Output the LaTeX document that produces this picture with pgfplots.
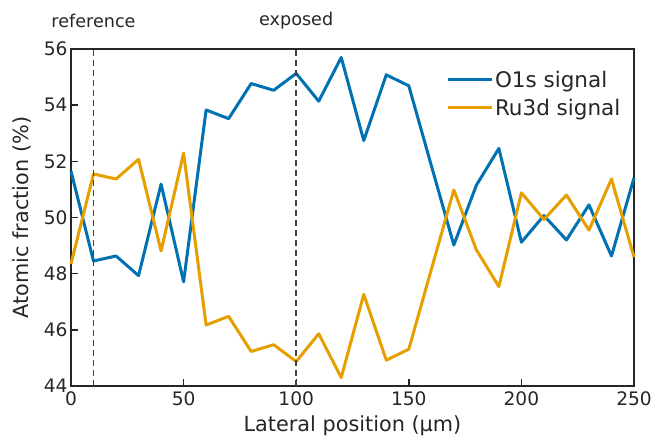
\documentclass[border=0pt]{standalone}
\usepackage{fontspec}
\setmainfont{DejaVu Sans}
\usepackage{pgfplots}
\usepackage{pgfplotstable}
\pgfplotsset{compat=1.18}
\definecolor{oblue}{HTML}{0072B2}
\definecolor{rorange}{HTML}{E69F00}

\pgfplotstableread{
x o1s ru3d
0 51.65 48.35
10 48.45 51.55
20 48.63 51.37
30 47.93 52.07
40 51.19 48.81
50 47.71 52.29
60 53.83 46.17
70 53.52 46.48
80 54.77 45.23
90 54.53 45.47
100 55.13 44.87
110 54.14 45.86
120 55.70 44.30
130 52.74 47.26
140 55.08 44.92
150 54.69 45.31
160 51.85 48.15
170 49.02 50.98
180 51.15 48.85
190 52.46 47.54
200 49.12 50.88
210 50.07 49.93
220 49.20 50.80
230 50.45 49.55
240 48.63 51.37
250 51.41 48.59
}\linescan

\begin{document}
\begin{tikzpicture}
\begin{axis}[
  scale only axis,
  width=563pt, height=337pt,
  xmin=0, xmax=250, ymin=44, ymax=56,
  xtick={0,50,...,250}, ytick={44,46,...,56},
  tick align=inside, xtick pos=bottom, ytick pos=left,
  major tick length=7pt,
  every tick/.style={black!85, line width=1.4pt},
  axis line style={black!85, line width=1.4pt},
  tick label style={font=\fontsize{18.6}{21}\selectfont, text=black!85},
  xticklabel style={yshift=-2pt},
  /pgf/number format/assume math mode=true,
  label style={font=\fontsize{20.8}{24}\selectfont, text=black!85},
  xlabel={Lateral position (µm)},
  ylabel={Atomic fraction (\%)},
  xlabel style={yshift=-3pt},
  ylabel style={yshift=6pt},
  clip=false,
  legend style={draw=none, fill=none, at={(rel axis cs:0.985,0.947)}, anchor=north east,
    font=\fontsize{21.5}{24}\selectfont, row sep=6pt,
    nodes={font=\fontsize{21.5}{24}\selectfont, text=black!85},
    /tikz/every even column/.append style={column sep=11pt}},
  legend cell align=left,
  legend image code/.code={\draw[#1] (0pt,0pt) -- (44pt,0pt);},
]
\addplot[oblue, line width=3pt, line join=round] table[x=x, y=o1s] {\linescan};
\addlegendentry{O1s signal}
\addplot[rorange, line width=3pt, line join=round] table[x=x, y=ru3d] {\linescan};
\addlegendentry{Ru3d signal}
\addplot[black!75, line width=1.5pt, dash pattern=on 6pt off 4pt, forget plot] coordinates {(10,44) (10,56)};
\addplot[black!75, line width=1.5pt, dash pattern=on 6pt off 4pt, forget plot] coordinates {(100,44) (100,56)};
\node[font=\fontsize{17.6}{20}\selectfont, text=black!85] at ([yshift=28pt]axis cs:10,56) {reference};
\node[font=\fontsize{17.6}{20}\selectfont, text=black!85] at ([yshift=28pt]axis cs:100,56) {exposed};
\coordinate (ll) at (rel axis cs:0,0);
\coordinate (ur) at (rel axis cs:1,1);
\end{axis}
\useasboundingbox ([shift={(-71pt,-52pt)}]ll) rectangle ([shift={(22pt,49pt)}]ur);
\end{tikzpicture}
\end{document}
